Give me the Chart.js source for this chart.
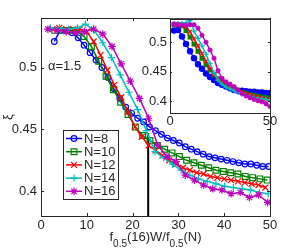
<!DOCTYPE html>
<html>
<head>
<meta charset="utf-8">
<script src="https://cdn.jsdelivr.net/npm/chart.js@4.4.1/dist/chart.umd.min.js"></script>
<style>
  html, body { margin: 0; padding: 0; background: #fff; }
  #wrap { position: relative; width: 299px; height: 250px; }
  #main { position: absolute; left: 0; top: 0; }
  #inset { position: absolute; left: 140px; top: 8px; }
</style>
</head>
<body>
<div id="wrap">
  <canvas id="main" width="299" height="250"></canvas>
  <canvas id="inset" width="150" height="125"></canvas>
</div>
<script>
const seriesLabels = ['N=8', 'N=10', 'N=12', 'N=14', 'N=16'];

// main plot, x = f0.5(16) W / f0.5(N)
const x8 = [2.9, 4.2, 5.5, 6.8, 8.1, 9.4, 10.7, 12.0, 13.3, 14.6, 15.9, 17.2, 18.5, 19.8, 21.1, 22.4, 23.7, 25.0, 26.3,
            27.6, 28.9, 30.2, 31.5, 32.8, 34.1, 35.4, 36.7, 38.0, 39.3, 40.6, 41.9, 43.2, 44.5, 45.8, 47.1, 48.4, 49.7];
const y8 = [0.521, 0.530, 0.530, 0.528, 0.524, 0.518, 0.512, 0.506, 0.500, 0.492, 0.483, 0.475, 0.468, 0.463, 0.459, 0.456, 0.452, 0.449, 0.446,
            0.443, 0.441, 0.439, 0.436, 0.434, 0.432, 0.430, 0.428, 0.427, 0.426, 0.425, 0.424, 0.423, 0.422, 0.422, 0.421, 0.420, 0.420];
const x10 = [3, 4.6, 6.2, 7.8, 9.4, 11, 12.6, 14.2, 15.8, 17.4, 19, 20.6, 22.2, 23.8, 25.4, 27, 28.6, 30.2, 31.8, 33.4,
             35, 36.6, 38.2, 39.8, 41.4, 43, 44.6, 46.2, 47.8, 49.4];
const y10 = [0.530, 0.530, 0.530, 0.530, 0.525, 0.517, 0.505, 0.493, 0.482, 0.472, 0.462, 0.452, 0.445, 0.441, 0.437, 0.434, 0.431, 0.428, 0.425, 0.423,
             0.421, 0.419, 0.417, 0.416, 0.415, 0.414, 0.412, 0.411, 0.410, 0.409];
const x12 = [2.5, 4, 5.5, 7, 8.5, 10, 11.5, 13, 14.5, 16, 17.5, 19, 20.5, 22, 23.5, 25, 26.5, 28, 29.5, 31, 32.5, 34,
             35.5, 37, 38.5, 40, 41.5, 43, 44.5, 46, 47.5, 49];
const y12 = [0.531, 0.532, 0.531, 0.531, 0.531, 0.529, 0.521, 0.510, 0.498, 0.486, 0.476, 0.464, 0.452, 0.444, 0.437, 0.433, 0.429, 0.425, 0.422, 0.419, 0.417, 0.415,
             0.414, 0.412, 0.411, 0.410, 0.409, 0.408, 0.407, 0.406, 0.405, 0.403];
const x14 = [2, 4, 6, 8, 9.7, 11.6, 13.5, 15.4, 17.3, 19.2, 21.1, 23, 24.9, 26.8, 28.7, 30.6, 32.5, 34.4, 36.3, 38.2,
             40.1, 42, 43.9, 45.8, 47.7, 49.6];
const y14 = [0.532, 0.532, 0.531, 0.532, 0.535, 0.530, 0.520, 0.508, 0.494, 0.480, 0.466, 0.449, 0.432, 0.427, 0.422, 0.417, 0.413, 0.410, 0.408, 0.406,
             0.404, 0.403, 0.402, 0.401, 0.399, 0.398];
const x16 = [1.5, 3.5, 5.5, 7.5, 9.5, 11.5, 13.5, 15.5, 17.5, 19.5, 21.5, 23.5, 25.5, 27.5, 29.5, 31.5, 33.5, 35.5, 37.5, 39.5,
             41.5, 43.5, 45.5, 47.5, 49.5];
const y16 = [0.531, 0.530, 0.529, 0.528, 0.529, 0.531, 0.527, 0.517, 0.503, 0.489, 0.475, 0.459, 0.437, 0.428, 0.424, 0.413, 0.409, 0.405, 0.402, 0.401,
             0.398, 0.399, 0.395, 0.397, 0.391];

// vertical marker line
const cutX = 23.4;
const cutY = [0.38, 0.447];

// inset, raw W
const insetX = [2, 4, 6, 8, 10, 12, 14, 16, 18, 20, 22, 24, 26, 28, 30, 32, 34, 36, 38, 40, 42, 44, 46, 48, 50];
const inset8  = [0.520, 0.521, 0.510, 0.497, 0.485, 0.473, 0.463, 0.455, 0.447, 0.441, 0.436, 0.431, 0.428, 0.425, 0.422, 0.419, 0.418, 0.418, 0.417, 0.416, 0.416, 0.415, 0.415, 0.414, 0.414];
const inset10 = [0.530, 0.530, 0.528, 0.520, 0.509, 0.497, 0.485, 0.473, 0.462, 0.453, 0.445, 0.438, 0.432, 0.428, 0.424, 0.421, 0.418, 0.415, 0.413, 0.411, 0.410, 0.408, 0.407, 0.406, 0.405];
const inset12 = [0.531, 0.531, 0.531, 0.527, 0.518, 0.506, 0.494, 0.481, 0.468, 0.456, 0.446, 0.439, 0.433, 0.429, 0.425, 0.422, 0.419, 0.416, 0.413, 0.411, 0.409, 0.407, 0.406, 0.404, 0.403];
const inset14 = [0.532, 0.532, 0.532, 0.533, 0.537, 0.519, 0.507, 0.494, 0.480, 0.464, 0.448, 0.436, 0.429, 0.424, 0.421, 0.418, 0.415, 0.412, 0.410, 0.408, 0.406, 0.405, 0.404, 0.403, 0.402];
const inset16 = [0.531, 0.530, 0.529, 0.529, 0.530, 0.530, 0.524, 0.512, 0.500, 0.487, 0.473, 0.452, 0.439, 0.433, 0.429, 0.425, 0.419, 0.413, 0.409, 0.406, 0.403, 0.401, 0.399, 0.396, 0.391];

const xTicks = [0, 10, 20, 30, 40, 50];
const xTickLabels = ['0', '10', '20', '30', '40', '50'];
const insetXTicks = [0, 50];
const insetXTickLabels = ['0', '50'];
const yTicks = [0.4, 0.45, 0.5];
const yTickLabels = ['0.4', '0.45', '0.5'];

const colors = ['#0000ff', '#008000', '#ff0000', '#00bfbf', '#bf00bf'];
const markers = ['circle', 'rect', 'crossRot', 'cross', 'star'];
const markerSize = [2.8, 4.1, 4.2, 3.6, 3.8];
const axisColor = '#262626';
const FONT = '"Liberation Sans", Arial, Helvetica, sans-serif';

const mainX = [x8, x10, x12, x14, x16];
const mainY = [y8, y10, y12, y14, y16];
const insetY = [inset8, inset10, inset12, inset14, inset16];

function pts(xs, ys) {
  return xs.map((x, i) => ({ x: x, y: ys[i] }));
}

// frame with inward ticks on all four sides, MATLAB style
function framePlugin(tickLen) {
  return {
    id: 'frame',
    afterDatasetsDraw(chart) {
      const { ctx, chartArea: a, scales } = chart;
      ctx.save();
      ctx.strokeStyle = axisColor;
      ctx.lineWidth = 1;
      ctx.beginPath();
      scales.x.ticks.forEach(t => {
        const px = Math.round(scales.x.getPixelForValue(t.value)) + 0.5;
        ctx.moveTo(px, a.bottom); ctx.lineTo(px, a.bottom - tickLen);
        ctx.moveTo(px, a.top); ctx.lineTo(px, a.top + tickLen);
      });
      scales.y.ticks.forEach(t => {
        const py = Math.round(scales.y.getPixelForValue(t.value)) + 0.5;
        ctx.moveTo(a.left, py); ctx.lineTo(a.left + tickLen, py);
        ctx.moveTo(a.right, py); ctx.lineTo(a.right - tickLen, py);
      });
      ctx.stroke();
      ctx.strokeRect(Math.round(a.left) + 0.5, Math.round(a.top) + 0.5,
                     Math.round(a.right - a.left), Math.round(a.bottom - a.top));
      ctx.restore();
    }
  };
}

const annotations = {
  id: 'annotations',
  afterDatasetsDraw(chart) {
    const ctx = chart.ctx;
    ctx.save();
    ctx.fillStyle = axisColor;
    ctx.textBaseline = 'middle';
    ctx.font = '13px ' + FONT;
    ctx.fillText('α=1.5', 48, 66);

    // y title
    ctx.save();
    ctx.translate(8, 117);
    ctx.rotate(-Math.PI / 2);
    ctx.textAlign = 'center';
    ctx.fillText('ξ', 0, 0);
    ctx.restore();

    // x title with subscripts
    const parts = [['f', 0], ['0.5', 1], ['(16)W/f', 0], ['0.5', 1], ['(N)', 0]];
    const bigFont = '13px ' + FONT, smallFont = '10px ' + FONT;
    let total = 0;
    parts.forEach(p => { ctx.font = p[1] ? smallFont : bigFont; total += ctx.measureText(p[0]).width; });
    const a = chart.chartArea;
    let cx = (a.left + a.right) / 2 - total / 2;
    ctx.textBaseline = 'alphabetic';
    parts.forEach(p => {
      ctx.font = p[1] ? smallFont : bigFont;
      ctx.fillText(p[0], cx, p[1] ? 247 : 241);
      cx += ctx.measureText(p[0]).width;
    });

    // legend box
    ctx.fillStyle = '#fff';
    ctx.fillRect(63.5, 130.5, 55, 69);
    ctx.strokeStyle = axisColor;
    ctx.lineWidth = 1;
    ctx.strokeRect(63.5, 130.5, 55, 69);
    ctx.font = '13px ' + FONT;
    ctx.textBaseline = 'middle';
    seriesLabels.forEach((lab, i) => {
      const y = 138.5 + i * 13.2;
      ctx.strokeStyle = colors[i];
      ctx.lineWidth = 1.5;
      ctx.beginPath();
      ctx.moveTo(66, y); ctx.lineTo(82, y);
      ctx.stroke();
      ctx.fillStyle = 'rgba(0,0,0,0)';
      ctx.lineWidth = 1.2;
      Chart.helpers.drawPoint(ctx, { pointStyle: markers[i], radius: markerSize[i], borderWidth: 1.2, rotation: 0 }, 74, y);
      ctx.fillStyle = axisColor;
      ctx.fillText(lab, 84, y + 0.5);
    });
    ctx.restore();
  }
};

const whiteArea = {
  id: 'whiteArea',
  beforeDraw(chart) {
    const { ctx, chartArea: a } = chart;
    ctx.save();
    ctx.fillStyle = '#fff';
    ctx.fillRect(a.left, a.top, a.right - a.left, a.bottom - a.top);
    ctx.restore();
  }
};

function axisOpts(min, max, ticks, labels, fit, pad) {
  return {
    type: 'linear',
    min: min,
    max: max,
    grid: { display: false, drawTicks: false },
    border: { display: false },
    afterBuildTicks: s => { s.ticks = ticks.map(v => ({ value: v })); },
    afterFit: fit,
    ticks: {
      color: axisColor,
      font: { family: FONT, size: 13 },
      padding: pad,
      maxRotation: 0,
      autoSkip: false,
      callback: (v, i) => labels[i]
    }
  };
}

const mainSets = mainX.map((xs, i) => ({
  label: seriesLabels[i],
  data: pts(xs, mainY[i]),
  borderColor: colors[i],
  backgroundColor: 'rgba(0,0,0,0)',
  borderWidth: 1.5,
  pointStyle: markers[i],
  pointRadius: markerSize[i],
  pointBorderWidth: 1.2,
  pointBorderColor: colors[i],
  pointBackgroundColor: 'rgba(0,0,0,0)',
  tension: 0,
  order: 5 - i
}));
mainSets.push({
  label: 'cut',
  data: [{ x: cutX, y: cutY[0] }, { x: cutX, y: cutY[1] }],
  borderColor: '#000',
  borderWidth: 2,
  pointRadius: 0,
  order: 10
});

new Chart(document.getElementById('main'), {
  type: 'line',
  data: { datasets: mainSets },
  options: {
    responsive: false,
    animation: false,
    layout: { padding: { top: 18, right: 29, left: 0, bottom: 0 } },
    plugins: { legend: { display: false }, tooltip: { enabled: false } },
    scales: {
      x: axisOpts(0, 50, xTicks, xTickLabels, s => { s.height = 34; }, 2),
      y: axisOpts(0.38, 0.54, yTicks, yTickLabels, s => { s.width = 41; }, 4)
    }
  },
  plugins: [framePlugin(3), annotations]
});

const insetSets = insetY.map((ys, i) => ({
  label: seriesLabels[i],
  data: pts(insetX, ys),
  borderColor: colors[i],
  backgroundColor: 'rgba(0,0,0,0)',
  borderWidth: 1.4,
  pointStyle: markers[i],
  pointRadius: 2.6,
  pointBorderWidth: 1.3,
  pointBorderColor: colors[i],
  pointBackgroundColor: colors[i],
  tension: 0,
  order: 5 - i
}));

new Chart(document.getElementById('inset'), {
  type: 'line',
  data: { datasets: insetSets },
  options: {
    responsive: false,
    animation: false,
    layout: { padding: { top: 10, right: 20, left: 0, bottom: 0 } },
    plugins: { legend: { display: false }, tooltip: { enabled: false } },
    scales: {
      x: axisOpts(0, 50, insetXTicks, insetXTickLabels, s => { s.height = 20; }, 1),
      y: axisOpts(0.38, 0.54, yTicks, yTickLabels, s => { s.width = 30; }, 3)
    }
  },
  plugins: [whiteArea, framePlugin(2)]
});
</script>
</body>
</html>
